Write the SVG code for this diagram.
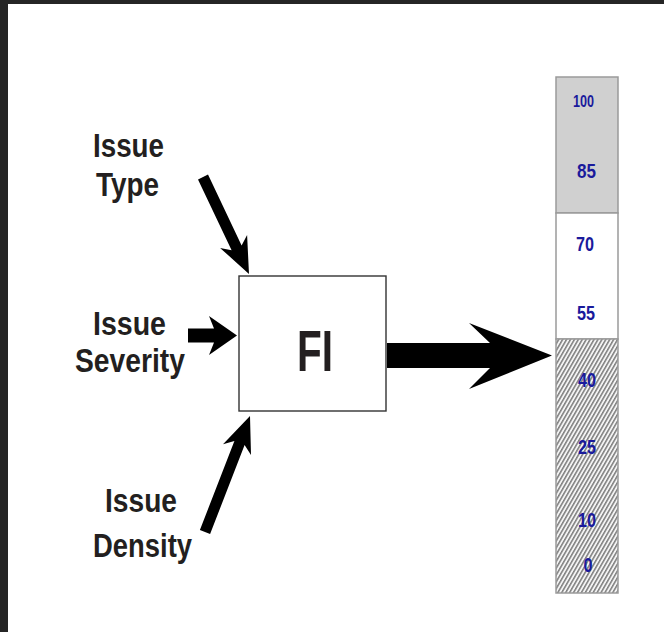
<svg xmlns="http://www.w3.org/2000/svg" width="664" height="632" viewBox="0 0 664 632">
  <defs>
    <style>
      .lbl { font-family: "Liberation Sans", Arial, sans-serif; font-weight: bold; font-size: 34px; fill: #231f20; }
      .num { font-family: "Liberation Sans", Arial, sans-serif; font-weight: bold; font-size: 21px; fill: #1a1a9c; text-anchor: middle; }
      .arrow { fill: #000000; }
      .seg { stroke: #9a9a9a; stroke-width: 1.5; }
    </style>
    <pattern id="hatch" width="3.4" height="8" patternUnits="userSpaceOnUse" patternTransform="rotate(30)">
      <rect width="3.4" height="8" fill="#f4f4f4"/>
      <line x1="0.8" y1="0" x2="0.8" y2="8" stroke="#404040" stroke-width="1"/>
    </pattern>
  </defs>

  <rect width="664" height="632" fill="#ffffff"/>
  <rect x="0" y="0" width="664" height="4" fill="#252525"/>
  <rect x="0" y="0" width="8" height="632" fill="#252525"/>

  <g id="label-type">
    <text class="lbl" x="93" y="157" textLength="71" lengthAdjust="spacingAndGlyphs">Issue</text>
    <text class="lbl" x="96" y="196" textLength="63" lengthAdjust="spacingAndGlyphs">Type</text>
  </g>
  <g id="label-severity">
    <text class="lbl" x="93" y="335" textLength="73" lengthAdjust="spacingAndGlyphs">Issue</text>
    <text class="lbl" x="75" y="372" textLength="110" lengthAdjust="spacingAndGlyphs">Severity</text>
  </g>
  <g id="label-density">
    <text class="lbl" x="105" y="512" textLength="72" lengthAdjust="spacingAndGlyphs">Issue</text>
    <text class="lbl" x="93" y="557" textLength="99" lengthAdjust="spacingAndGlyphs">Density</text>
  </g>

  <g id="fi-box">
    <rect x="239" y="276" width="147" height="135" fill="#ffffff" stroke="#333333" stroke-width="1.4"/>
    <text x="297" y="371" textLength="36" lengthAdjust="spacingAndGlyphs" style="font-family:'Liberation Sans', Arial, sans-serif; font-weight:bold; font-size:57px; fill:#231f20;">FI</text>
  </g>

  <g id="connectors">
    <polygon class="arrow" points="208.0,174.6 241.6,245.4 247.1,235.1 249,274 220.1,247.9 231.6,250.2 198.0,179.4"/>
    <polygon class="arrow" points="188,328.5 214,328.5 209,316 237,335.5 209,355 214,342.5 188,342.5"/>
    <polygon class="arrow" points="210.1,534.0 244.6,445.1 251.0,455.0 250,416 223.0,444.2 234.4,441.1 199.9,530.0"/>
    <polygon class="arrow" points="387,343 490,343 469,323 552,355.5 469,389 490,368 387,368"/>
  </g>

  <g id="scale">
    <rect class="seg" x="556" y="77" width="62" height="136" fill="#d0d0d0"/>
    <rect class="seg" x="556" y="213" width="62" height="126" fill="#ffffff"/>
    <rect class="seg" x="556" y="339" width="62" height="254" fill="url(#hatch)"/>
    <text class="num" x="583.5" y="107" style="font-size:16px" textLength="21" lengthAdjust="spacingAndGlyphs">100</text>
    <text class="num" x="586.5" y="178" textLength="19" lengthAdjust="spacingAndGlyphs">85</text>
    <text class="num" x="585" y="251" textLength="18" lengthAdjust="spacingAndGlyphs">70</text>
    <text class="num" x="586" y="320" textLength="18" lengthAdjust="spacingAndGlyphs">55</text>
    <text class="num" x="587" y="387" textLength="18" lengthAdjust="spacingAndGlyphs">40</text>
    <text class="num" x="587" y="454" textLength="18" lengthAdjust="spacingAndGlyphs">25</text>
    <text class="num" x="587" y="527" textLength="18" lengthAdjust="spacingAndGlyphs">10</text>
    <text class="num" x="588" y="572" textLength="9" lengthAdjust="spacingAndGlyphs">0</text>
  </g>
</svg>
